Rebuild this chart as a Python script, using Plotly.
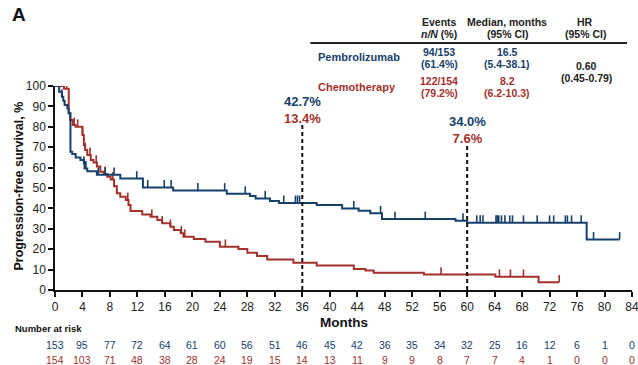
import plotly.graph_objects as go
import bisect

BLUE = "#17406d"
RED = "#a3312c"
FONT = "Liberation Sans, Arial, sans-serif"

# Kaplan-Meier step data (months, PFS %)
pem_t = [0, 0.6, 1.0, 1.2, 1.4, 1.8, 2.0, 2.25, 2.5, 3.0, 3.7, 4.2, 4.3, 4.7, 6.1, 9.5, 12.8,
         17.2, 25.0, 28.4, 29.2, 31.3, 32.6, 38.1, 41.8, 44.2, 45.9, 47.6, 58.3, 60.0, 77.4, 82.2]
pem_s = [100, 97.2, 94.7, 92.8, 90.7, 89.0, 86.6, 67.8, 66.7, 65.0, 63.7, 62.0, 59.6, 58.2, 56.5, 54.7, 50.3,
         48.8, 47.2, 46.1, 44.9, 43.6, 42.7, 41.7, 40.0, 38.9, 37.6, 34.8, 34.0, 33.0, 24.8, 24.8]
pem_cens = [1.0, 4.2, 4.4, 4.5, 6.3, 7.3, 8.6, 11.9, 13.5, 15.9, 16.9, 20.8, 24.7, 27.7, 30.6, 33.3,
            35.0, 35.3, 35.6, 43.5, 47.4, 49.5, 53.9, 59.4, 61.4, 61.9, 62.3, 64.2, 64.4, 64.6, 65.0,
            65.5, 66.2, 66.6, 68.2, 70.2, 72.0, 72.6, 74.3, 74.6, 75.2, 76.6, 78.4, 82.2]

chemo_t = [0, 1.3, 2.0, 2.2, 2.6, 3.0, 4.0, 4.2, 4.4, 4.7, 5.2, 5.6, 6.1, 6.6, 7.1, 7.6, 8.1, 8.6, 9.0,
           9.5, 10.3, 10.7, 11.0, 12.7, 13.9, 14.9, 15.6, 16.8, 17.3, 18.3, 18.7, 20.2, 21.9, 24.0,
           26.7, 28.0, 29.4, 30.9, 34.7, 38.1, 43.5, 45.2, 46.4, 53.7, 64.1, 70.4, 73.4]
chemo_s = [100, 98.7, 86.6, 83.3, 80.9, 80.0, 76.0, 71.0, 68.6, 66.2, 63.7, 62.5, 60.5, 58.0, 56.9, 55.5,
           54.2, 50.8, 47.4, 45.7, 44.1, 41.7, 38.7, 37.0, 35.9, 34.3, 32.7, 31.0, 29.4, 27.8, 26.1,
           25.0, 23.7, 21.2, 20.1, 18.3, 16.7, 15.0, 13.4, 12.0, 10.3, 9.5, 8.5, 7.6, 6.5, 3.8, 3.8]
chemo_cens = [0, 1.7, 2.8, 3.3, 4.0, 4.4, 5.1, 6.0, 7.3, 8.4, 10.6, 14.1, 15.6, 16.8, 18.4, 18.9,
              24.8, 56.2, 64.7, 66.3, 68.2, 73.4]

risk_times = list(range(0, 85, 4))
pem_risk = [153, 95, 77, 72, 64, 61, 60, 56, 51, 46, 45, 42, 36, 35, 34, 32, 25, 16, 12, 6, 1, 0]
chemo_risk = [154, 103, 71, 48, 38, 28, 24, 19, 15, 14, 13, 11, 9, 9, 8, 7, 7, 4, 1, 0, 0, 0]

landmarks = [36, 60]
pem_landmark = ["42.7%", "34.0%"]
chemo_landmark = ["13.4%", "7.6%"]

TICK_H = 3.6


def step_at(ts, ss, t):
    i = bisect.bisect_right(ts, t) - 1
    return ss[max(i, 0)]


fig = go.Figure()
for ts, ss, cens, col in [(chemo_t, chemo_s, chemo_cens, RED), (pem_t, pem_s, pem_cens, BLUE)]:
    fig.add_trace(go.Scatter(x=ts, y=ss, mode="lines", line=dict(color=col, width=2, shape="hv"),
                             cliponaxis=False, hoverinfo="skip"))
    fig.add_trace(go.Scatter(x=cens, y=[step_at(ts, ss, c) for c in cens], mode="markers",
                             marker=dict(size=1, opacity=0), cliponaxis=False,
                             error_y=dict(type="data", symmetric=False, array=[TICK_H] * len(cens),
                                          arrayminus=[0] * len(cens), width=0, thickness=1.6, color=col)))

# plot area geometry (pixels) for paper-coordinate helpers
L, R, T, B = 54.5, 632.0, 86.0, 290.0


def xp(px):
    return (px - L) / (R - L)


def yp(py):
    return (B - py) / (B - T)


shapes = []
ann = []
tops = [82.0, 71.6]
label_mid = [88.2, 78.4]
for lm, top, mid, pl, cl in zip(landmarks, tops, label_mid, pem_landmark, chemo_landmark):
    shapes.append(dict(type="line", xref="x", yref="y", x0=lm, x1=lm, y0=0, y1=top,
                       line=dict(color="#111", width=2, dash="4px,3px")))
    ann.append(dict(x=lm, y=mid, xref="x", yref="y",
                    text=f"<span style='color:{BLUE}'><b>{pl}</b></span><br>"
                         f"<span style='color:{RED}'><b>{cl}</b></span>",
                    showarrow=False, xanchor="center", yanchor="middle",
                    font=dict(size=13, family=FONT)))

# panel letter
ann.append(dict(x=xp(9), y=yp(15), xref="paper", yref="paper", text="<b>A</b>", showarrow=False,
                xanchor="left", yanchor="middle", font=dict(size=19, color="#111", family=FONT)))

# table
TF = 10.5
DARK = "#222"
def txt(px, py, s, col=DARK, xa="center", size=TF):
    ann.append(dict(x=xp(px), y=yp(py), xref="paper", yref="paper", text=s, showarrow=False,
                    xanchor=xa, yanchor="middle", font=dict(size=size, color=col, family=FONT)))

txt(439, 22, "<b>Events</b>")
txt(439, 34, "<b><i>n/N</i> (%)</b>")
txt(507, 22, "<b>Median, months</b>")
txt(507, 34, "<b>(95% CI)</b>")
txt(585, 22, "<b>HR</b>")
txt(585, 34, "<b>(95% CI)</b>")
shapes.append(dict(type="line", xref="paper", yref="paper", x0=xp(310), x1=xp(627), y0=yp(43), y1=yp(43),
                   line=dict(color="#222", width=2)))
txt(316, 57, "<b>Pembrolizumab</b>", BLUE, "left", 11)
txt(439, 52, "<b>94/153</b>", BLUE)
txt(439, 64, "<b>(61.4%)</b>", BLUE)
txt(507, 52, "<b>16.5</b>", BLUE)
txt(507, 64, "<b>(5.4-38.1)</b>", BLUE)
txt(316, 87, "<b>Chemotherapy</b>", RED, "left", 11)
txt(439, 81, "<b>122/154</b>", RED)
txt(439, 93, "<b>(79.2%)</b>", RED)
txt(507, 81, "<b>8.2</b>", RED)
txt(507, 93, "<b>(6.2-10.3)</b>", RED)
txt(586, 66, "<b>0.60</b>")
txt(586, 78, "<b>(0.45-0.79)</b>")

# axis titles
ann.append(dict(x=xp(18), y=yp(186), xref="paper", yref="paper", text="<b>Progression-free survival, %</b>",
                showarrow=False, textangle=-90, xanchor="center", yanchor="middle",
                font=dict(size=12.5, color="#111", family=FONT)))
ann.append(dict(x=42, y=yp(322), xref="x", yref="paper", text="<b>Months</b>", showarrow=False,
                xanchor="center", yanchor="middle", font=dict(size=13.5, color="#111", family=FONT)))

# number at risk
ann.append(dict(x=xp(12), y=yp(328), xref="paper", yref="paper", text="<b>Number at risk</b>",
                showarrow=False, xanchor="left", yanchor="middle", font=dict(size=9.5, color="#111", family=FONT)))
for t, a, b in zip(risk_times, pem_risk, chemo_risk):
    ann.append(dict(x=t, y=yp(345), xref="x", yref="paper", text=str(a), showarrow=False,
                    xanchor="center", yanchor="middle", font=dict(size=10.5, color=BLUE, family=FONT)))
    ann.append(dict(x=t, y=yp(360), xref="x", yref="paper", text=str(b), showarrow=False,
                    xanchor="center", yanchor="middle", font=dict(size=10.5, color=RED, family=FONT)))

fig.update_layout(
    width=638, height=365, showlegend=False, plot_bgcolor="white", paper_bgcolor="white",
    margin=dict(l=L, r=638 - R, t=T, b=365 - B, autoexpand=False),
    font=dict(family=FONT, color="#222"),
    shapes=shapes, annotations=ann,
)
fig.update_xaxes(range=[0, 84], tickvals=risk_times, showline=True, linecolor="#111", linewidth=1.5,
                 ticks="outside", ticklen=5, tickwidth=1.5, tickcolor="#111", showgrid=False, zeroline=False,
                 tickfont=dict(size=12, color="#222"), ticklabeloverflow="allow", automargin=False)
fig.update_yaxes(range=[0, 100], tickvals=list(range(0, 101, 10)), showline=True, linecolor="#111",
                 linewidth=1.5, ticks="outside", ticklen=5, tickwidth=1.5, tickcolor="#111", showgrid=False,
                 zeroline=False, tickfont=dict(size=12, color="#222"), automargin=False)

fig.write_html("out.html")
